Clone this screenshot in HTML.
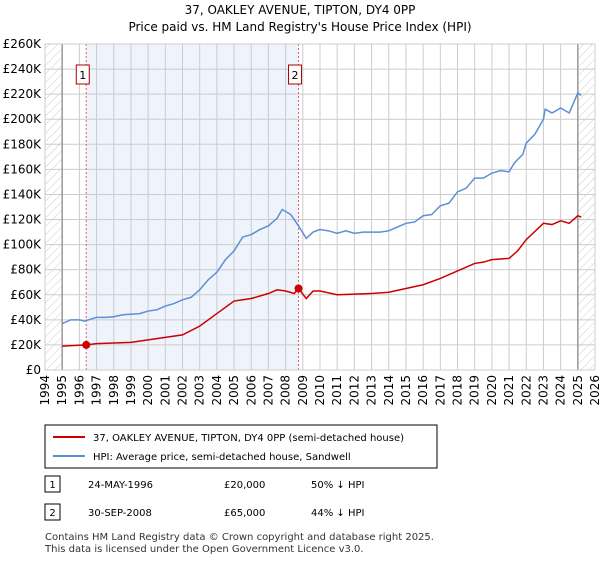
<!DOCTYPE html>
<html><head><meta charset="utf-8"><style>
body{margin:0;background:#fff;font-family:"Liberation Sans","DejaVu Sans",sans-serif;}
svg text{font-family:"DejaVu Sans","Liberation Sans",sans-serif;}
</style></head><body>
<svg id="c" width="600" height="560" xmlns="http://www.w3.org/2000/svg">
<defs><pattern id="hatch" width="6" height="6" patternUnits="userSpaceOnUse" patternTransform="rotate(45)"><line x1="0" y1="0" x2="0" y2="6" stroke="#ccc" stroke-width="1"/></pattern></defs>
<text x="300" y="14" text-anchor="middle" font-size="12">37, OAKLEY AVENUE, TIPTON, DY4 0PP</text>
<text x="300" y="31" text-anchor="middle" font-size="12">Price paid vs. HM Land Registry's House Price Index (HPI)</text>
<g id="plot"></g>
<g>
<rect x="45" y="425" width="392" height="43" fill="#fff" stroke="#000" stroke-width="1"/>
<line x1="53" y1="437" x2="85" y2="437" stroke="#cc0000" stroke-width="2"/>
<text x="93" y="441" font-size="10">37, OAKLEY AVENUE, TIPTON, DY4 0PP (semi-detached house)</text>
<line x1="53" y1="456" x2="85" y2="456" stroke="#5b8fd6" stroke-width="2"/>
<text x="93" y="460" font-size="10">HPI: Average price, semi-detached house, Sandwell</text>
</g>
<g font-size="10">
<rect x="45" y="476" width="15" height="16" fill="#fff" stroke="#000"/><text x="52.5" y="488" text-anchor="middle">1</text>
<text x="88" y="488">24-MAY-1996</text><text x="224" y="488">£20,000</text><text x="311" y="488">50% ↓ HPI</text>
<rect x="45" y="504" width="15" height="16" fill="#fff" stroke="#000"/><text x="52.5" y="516" text-anchor="middle">2</text>
<text x="88" y="516">30-SEP-2008</text><text x="224" y="516">£65,000</text><text x="311" y="516">44% ↓ HPI</text>
</g>
<text x="45" y="540" font-size="10" fill="#333">Contains HM Land Registry data © Crown copyright and database right 2025.</text>
<text x="45" y="552" font-size="10" fill="#333">This data is licensed under the Open Government Licence v3.0.</text>
</svg>
<script>
const hpiYears=[1995,1995.5,1996,1996.3,1997,1997.5,1998,1998.5,1999,1999.5,2000,2000.5,2001,2001.5,2002,2002.5,2003,2003.5,2004,2004.5,2005,2005.5,2006,2006.5,2007,2007.5,2007.8,2008.3,2008.75,2009.2,2009.6,2010,2010.5,2011,2011.5,2012,2012.5,2013,2013.5,2014,2014.5,2015,2015.5,2016,2016.5,2017,2017.5,2018,2018.5,2019,2019.5,2020,2020.5,2021,2021.3,2021.8,2022,2022.5,2023,2023.1,2023.5,2024,2024.5,2025,2025.2];
const hpiValues=[37,40,40,39,42,42,42.5,44,44.5,45,47,48,51,53,56,58,64,72,78,88,95,106,108,112,115,121,128,124,115,105,110,112,111,109,111,109,110,110,110,111,114,117,118,123,124,131,133,142,145,153,153,157,159,158,165,172,181,188,200,208,205,209,205,221,219];
const ppYears=[1995,1996.4,1997,1998,1999,2000,2001,2002,2003,2004,2005,2005.5,2006,2007,2007.5,2008,2008.5,2008.75,2009.2,2009.6,2010,2011,2012,2013,2014,2015,2016,2017,2018,2019,2019.5,2020,2021,2021.5,2022,2023,2023.5,2024,2024.5,2025,2025.2];
const ppValues=[19,20,21,21.5,22,24,26,28,35,45,55,56,57,61,64,63,61,65,57,63,63,60,60.5,61,62,65,68,73,79,85,86,88,89,95,104,117,116,119,117,123,122];
const saleYears=[1996.4,2008.75];
const saleValues=[20,65];
const saleLabels=["1","2"];
const yTicks=[0,20,40,60,80,100,120,140,160,180,200,220,240,260];
const xTicks=[1994,1995,1996,1997,1998,1999,2000,2001,2002,2003,2004,2005,2006,2007,2008,2009,2010,2011,2012,2013,2014,2015,2016,2017,2018,2019,2020,2021,2022,2023,2024,2025,2026];
const L=45,R=595,T=44,B=370;
const x=v=>L+(v-1994)/32*(R-L);
const y=v=>B-v/260*(B-T);
const g=document.getElementById('plot');
const NS='http://www.w3.org/2000/svg';
function mk(t,a){const e=document.createElementNS(NS,t);for(const k in a)e.setAttribute(k,a[k]);g.appendChild(e);return e;}
let e;
e=mk('rect',{x:L,y:T,width:x(1995)-L,height:B-T,fill:'url(#hatch)'});


e=mk('rect',{x:x(2025),y:T,width:R-x(2025),height:B-T,fill:'url(#hatch)'});


e=mk('rect',{x:x(saleYears[0]),y:T,width:x(saleYears[1])-x(saleYears[0]),height:B-T,fill:'#eef3fc'});


yTicks.forEach(v=>{
 e=mk('line',{x1:L,x2:R,y1:y(v),y2:y(v),stroke:'#ccc','stroke-width':1});
 
 
 e=mk('text',{x:L-4,y:y(v)+4,'text-anchor':'end','font-size':12});
 e.textContent=v===0?'£0':'£'+v+'K';
 
 
});
xTicks.forEach(v=>{
 e=mk('line',{x1:x(v),x2:x(v),y1:T,y2:B,stroke:'#ccc','stroke-width':1});
 
 
 e=mk('text',{x:0,y:0,'text-anchor':'end','font-size':12,transform:`translate(${x(v)+4},${B+5}) rotate(-90)`});
 e.textContent=v;
 
 
});
e=mk('line',{x1:x(1995),x2:x(1995),y1:T,y2:B,stroke:'#999','stroke-width':1.5});


e=mk('line',{x1:x(2025),x2:x(2025),y1:T,y2:B,stroke:'#999','stroke-width':1.5});


saleYears.forEach((s,i)=>{
 e=mk('line',{x1:x(s),x2:x(s),y1:T,y2:B,stroke:'#e06666','stroke-width':1,'stroke-dasharray':'2,2'});
 
 
});
e=mk('polyline',{points:hpiYears.map((v,i)=>x(v)+','+y(hpiValues[i])).join(' '),fill:'none',stroke:'#5b8fd6','stroke-width':1.5});


e=mk('polyline',{points:ppYears.map((v,i)=>x(v)+','+y(ppValues[i])).join(' '),fill:'none',stroke:'#cc0000','stroke-width':1.5});


saleYears.forEach((s,i)=>{
 e=mk('circle',{cx:x(s),cy:y(saleValues[i]),r:4,fill:'#cc0000'});
 
 
 const bx=x(s)-10;
 e=mk('rect',{x:bx,y:65,width:13,height:19,fill:'#fff',stroke:'#aa0000'});
 
 
 e=mk('text',{x:bx+6.5,y:79,'text-anchor':'middle','font-size':11});
 e.textContent=saleLabels[i];
 
 
});
e=mk('rect',{x:L,y:T,width:R-L,height:B-T,fill:'none',stroke:'#ccc'});


</script>
</body></html>
